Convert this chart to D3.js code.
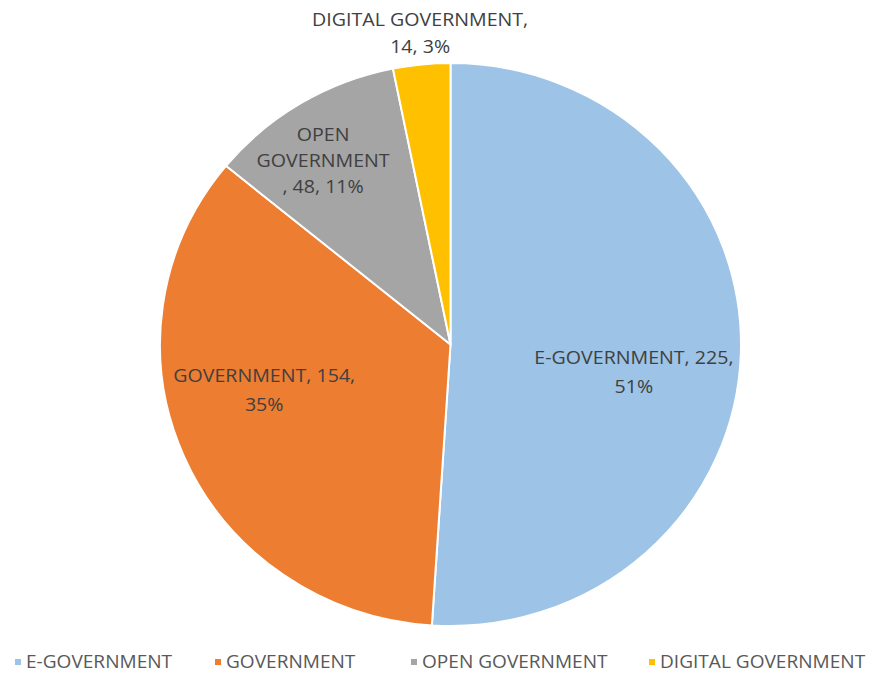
<!DOCTYPE html>
<html>
<head>
<meta charset="utf-8">
<script src="https://cdn.jsdelivr.net/npm/d3@7"></script>
<style>
  html, body { margin: 0; padding: 0; background: #ffffff; }
  svg { display: block; }
  text { font-family: "Open Sans", "DejaVu Sans", sans-serif; }
</style>
</head>
<body>
<svg id="chart" width="872" height="674"></svg>
<script>
// Publication counts by search term
const categories = ["E-GOVERNMENT", "GOVERNMENT", "OPEN GOVERNMENT", "DIGITAL GOVERNMENT"];
const counts = [225, 154, 48, 14];
const colors = ["#9DC3E6", "#ED7D31", "#A5A5A5", "#FFC000"];
// Data label lines, per slice
const labelLines = [
  ["E-GOVERNMENT, 225,", "51%"],
  ["GOVERNMENT, 154,", "35%"],
  ["OPEN", "GOVERNMENT", ", 48, 11%"],
  ["DIGITAL GOVERNMENT,", "14, 3%"]
];

const width = 872, height = 674;
const cx = 450.5, cy = 344.5, radius = 290.5, squash = 0.969;

// Label placement: distance from centre, a small nudge and line spacing for each slice
const labelRadius = [185, 190, 222, 315];
const labelNudge = [[-1.5, 21.5], [-12, -30], [-13, 6], [1, 2]];
const lineGap = [29, 29, 26, 26.5];
const textStretch = 1.09;
const legendStretch = 1.06;

const svg = d3.select("#chart");
const pieG = svg.append("g").attr("transform", `translate(${cx},${cy}) scale(1,${squash})`);
const labelG = svg.append("g").attr("transform", `translate(${cx},${cy})`);

const pie = d3.pie().sort(null).value(d => d);
const arcs = pie(counts);
const arc = d3.arc().innerRadius(0).outerRadius(radius);

pieG.selectAll("path.slice")
  .data(arcs)
  .join("path")
  .attr("class", "slice")
  .attr("d", arc)
  .attr("fill", (d, i) => colors[i])
  .attr("stroke", "#ffffff")
  .attr("stroke-width", 2)
  .attr("stroke-linejoin", "round");

// Data labels
arcs.forEach((a, i) => {
  const mid = (a.startAngle + a.endAngle) / 2;
  const r = labelRadius[i];
  const x = Math.sin(mid) * r + labelNudge[i][0];
  const y = -Math.cos(mid) * r + labelNudge[i][1];
  const lines = labelLines[i];
  const t = labelG.append("text")
    .attr("transform", `translate(${x},${y}) scale(${textStretch},1)`)
    .attr("text-anchor", "middle")
    .attr("font-size", 18)
    .attr("fill", "#404040");
  lines.forEach((ln, k) => {
    t.append("tspan")
      .attr("x", 0)
      .attr("y", (k - (lines.length - 1) / 2) * lineGap[i])
      .attr("dy", "0.35em")
      .text(ln);
  });
});

// Legend along the bottom
const legendX = [15, 215, 411, 649];
const legend = svg.append("g").attr("transform", "translate(0,662)");
const items = legend.selectAll("g.item")
  .data(categories)
  .join("g")
  .attr("class", "item")
  .attr("transform", (d, i) => `translate(${legendX[i]},0)`);
items.append("rect")
  .attr("x", 0).attr("y", -3)
  .attr("width", 6).attr("height", 6)
  .attr("fill", (d, i) => colors[i]);
items.append("text")
  .attr("transform", `translate(11,0) scale(${legendStretch},1)`)
  .attr("dy", "0.35em")
  .attr("font-size", 18)
  .attr("fill", "#595959")
  .text(d => d);
</script>
</body>
</html>
